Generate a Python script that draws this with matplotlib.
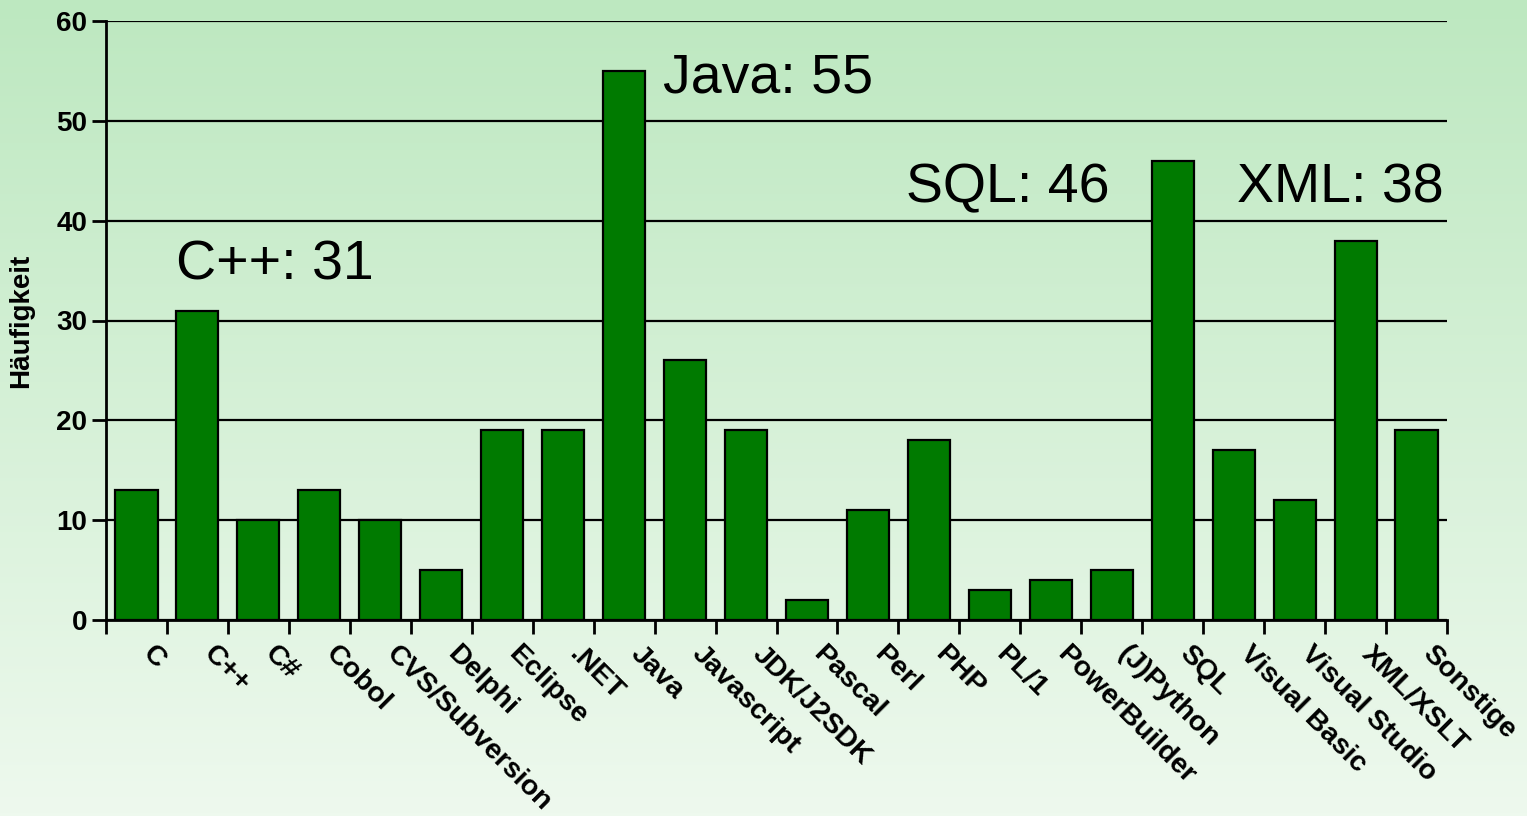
import numpy as np
import matplotlib
matplotlib.use('Agg')
import matplotlib.pyplot as plt
from matplotlib.colors import LinearSegmentedColormap

plt.rcParams['font.family'] = ['Liberation Sans', 'DejaVu Sans']

categories = ['C', 'C++', 'C#', 'Cobol', 'CVS/Subversion', 'Delphi', 'Eclipse',
              '.NET', 'Java', 'Javascript', 'JDK/J2SDK', 'Pascal', 'Perl', 'PHP',
              'PL/1', 'PowerBuilder', '(J)Python', 'SQL', 'Visual Basic',
              'Visual Studio', 'XML/XSLT', 'Sonstige']
counts = [13, 31, 10, 13, 10, 5, 19, 19, 55, 26, 19, 2, 11, 18, 3, 4, 5, 46, 17, 12, 38, 19]

# callouts: text, x (category units), y (baseline)
notes = [('C++: 31', 0.65, 34.1), ('Java: 55', 8.63, 52.8),
         ('SQL: 46', 12.63, 41.8), ('XML: 38', 18.06, 41.8)]

fig = plt.figure(figsize=(15.27, 8.16), dpi=100)

# background gradient
bg = fig.add_axes([0, 0, 1, 1], zorder=-10)
cmap = LinearSegmentedColormap.from_list('bg', ['#bde8c0', '#eef9ee'])
bg.imshow(np.linspace(0, 1, 256).reshape(-1, 1), aspect='auto', cmap=cmap,
          extent=[0, 1, 0, 1])
bg.axis('off')

ax = fig.add_axes([106 / 1527, 1 - 620 / 816, (1447 - 106) / 1527, (620 - 21) / 816])
ax.patch.set_alpha(0)

x = np.arange(len(categories))
ax.bar(x, counts, width=0.69, color='#007a00', edgecolor='black', linewidth=1.6, zorder=3)

ax.set_xlim(-0.5, len(categories) - 0.5)
ax.set_ylim(0, 60)
ax.set_yticks(range(0, 61, 10))
ax.yaxis.grid(True, color='black', linewidth=1.6, zorder=0)
ax.set_axisbelow(True)

for s in ['top', 'right']:
    ax.spines[s].set_visible(False)
for s in ['left', 'bottom']:
    ax.spines[s].set_linewidth(2)

# tick marks at category boundaries, labels placed by hand (rotated, offset right)
ax.set_xticks(np.arange(-0.5, len(categories)))
ax.set_xticklabels([])
ax.tick_params(axis='x', length=10, width=2, direction='out')
for i, cat in enumerate(categories):
    ax.annotate(cat, xy=(i, 0), xycoords=('data', 'axes fraction'),
                xytext=(14, -15), textcoords='offset points',
                rotation=-45, ha='left', va='top', rotation_mode='anchor',
                fontsize=20.5, fontweight='bold', annotation_clip=False)

ax.tick_params(axis='y', length=10, width=2, labelsize=20)
for lab in ax.get_yticklabels():
    lab.set_fontweight('bold')

ax.set_ylabel('Häufigkeit', fontsize=20, fontweight='bold', labelpad=16)

for txt, tx, ty in notes:
    ax.text(tx, ty, txt, fontsize=40, ha='left', va='baseline')

plt.savefig('out.png', dpi=100)
